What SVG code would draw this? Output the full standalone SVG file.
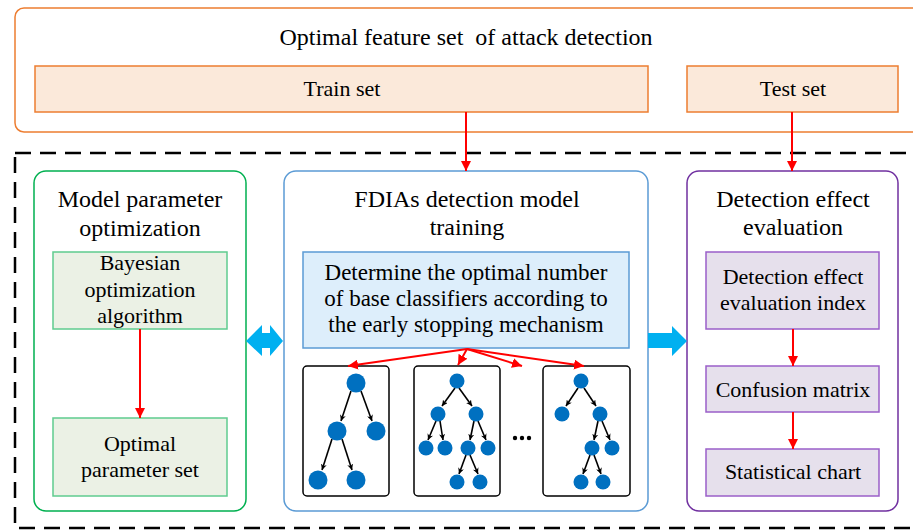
<svg xmlns="http://www.w3.org/2000/svg" width="913" height="532" viewBox="0 0 913 532">
<defs>
<marker id="red" viewBox="0 0 10 10" refX="10" refY="5" markerWidth="10" markerHeight="10" markerUnits="userSpaceOnUse" orient="auto"><path d="M0,0 L10,5 L0,10 Z" fill="#FF0000"/></marker>
<marker id="blk" viewBox="0 0 10 10" refX="10" refY="5" markerWidth="6" markerHeight="6" markerUnits="userSpaceOnUse" orient="auto"><path d="M0,0 L10,5 L0,10 L3,5 Z" fill="#000"/></marker>
<style>
text{font-family:"Liberation Serif","Times New Roman",serif;fill:#000;text-anchor:middle;white-space:pre}
.t24{font-size:24px}
.t22{font-size:22px}
.t23{font-size:23px}
.red{stroke:#FF0000;stroke-width:2;fill:none;marker-end:url(#red)}
.edge{stroke:#000;stroke-width:1.6;fill:none;marker-end:url(#blk)}
.nd{fill:#0070C0}
.tb{fill:#fff;stroke:#000;stroke-width:1.5}
.gi{fill:#EBF1E5;stroke:#5FCB8F;stroke-width:1.5}
.pi{fill:#E6E0EC;stroke:#9A5FC9;stroke-width:1.5}
</style>
</defs>
<rect width="913" height="532" fill="#fff"/>

<g id="feature-set">
<rect x="15" y="8" width="910" height="124" rx="9" fill="#fff" stroke="#ED7D31" stroke-width="1.5"/>
<text class="t24" x="466" y="45" xml:space="preserve">Optimal feature set  of attack detection</text>
</g>
<g id="train-set">
<rect x="35" y="66" width="613" height="46" fill="#FBE9DA" stroke="#ED7D31" stroke-width="1.5"/>
<text class="t22" x="342" y="96">Train set</text>
</g>
<g id="test-set">
<rect x="687" y="66" width="211" height="46" fill="#FBE9DA" stroke="#ED7D31" stroke-width="1.5"/>
<text class="t22" x="793" y="96">Test set</text>
</g>

<g id="dashed-frame">
<rect x="15" y="153" width="910" height="375" fill="none" stroke="#000" stroke-width="2.5" stroke-dasharray="16,9"/>
</g>

<g id="model-param-opt">
<rect x="34" y="171" width="212" height="340" rx="12" fill="#fff" stroke="#00B050" stroke-width="1.5"/>
<text class="t24" x="140" y="207">Model parameter</text>
<text class="t24" x="140" y="236">optimization</text>
</g>
<g id="bayesian">
<rect class="gi" x="53" y="252" width="174" height="77"/>
<text class="t22" x="140" y="270">Bayesian</text>
<text class="t22" x="140" y="297">optimization</text>
<text class="t22" x="140" y="323">algorithm</text>
</g>
<g id="optimal-param">
<rect class="gi" x="53" y="418" width="174" height="78"/>
<text class="t22" x="140" y="451">Optimal</text>
<text class="t22" x="140" y="477">parameter set</text>
</g>

<g id="fdia-training">
<rect x="284" y="171" width="364" height="340" rx="12" fill="#fff" stroke="#5B9BD5" stroke-width="1.5"/>
<text class="t24" x="467" y="207">FDIAs detection model</text>
<text class="t24" x="467" y="235">training</text>
</g>
<g id="early-stopping">
<rect x="303" y="252" width="326" height="96" fill="#DDEEFB" stroke="#5B9BD5" stroke-width="1.5"/>
<text class="t23" x="466" y="280">Determine the optimal number</text>
<text class="t23" x="466" y="306">of base classifiers according to</text>
<text class="t23" x="466" y="332">the early stopping mechanism</text>
</g>

<g id="tree1">
<rect class="tb" x="303" y="366" width="86" height="130" rx="4"/>
<line class="edge" x1="351" y1="391" x2="341" y2="421"/>
<line class="edge" x1="361" y1="391" x2="372" y2="421"/>
<line class="edge" x1="332" y1="439" x2="322" y2="470"/>
<line class="edge" x1="342" y1="439" x2="352" y2="470"/>
<circle class="nd" cx="356" cy="383" r="9.5"/>
<circle class="nd" cx="337" cy="431" r="9.5"/>
<circle class="nd" cx="376" cy="431" r="9.5"/>
<circle class="nd" cx="318" cy="480" r="9.5"/>
<circle class="nd" cx="356" cy="480" r="9.5"/>
</g>
<g id="tree2">
<rect class="tb" x="414" y="366" width="86" height="130" rx="4"/>
<line class="edge" x1="455" y1="388" x2="442" y2="406"/>
<line class="edge" x1="459" y1="388" x2="472" y2="406"/>
<line class="edge" x1="436" y1="421" x2="428" y2="440"/>
<line class="edge" x1="440" y1="421" x2="443" y2="440"/>
<line class="edge" x1="474" y1="421" x2="470" y2="440"/>
<line class="edge" x1="478" y1="421" x2="486" y2="440"/>
<line class="edge" x1="466" y1="455" x2="459" y2="474"/>
<line class="edge" x1="470" y1="455" x2="478" y2="474"/>
<circle class="nd" cx="457" cy="381" r="7.5"/>
<circle class="nd" cx="438" cy="414" r="7.5"/>
<circle class="nd" cx="476" cy="414" r="7.5"/>
<circle class="nd" cx="426" cy="448" r="7.5"/>
<circle class="nd" cx="445" cy="448" r="7.5"/>
<circle class="nd" cx="468" cy="448" r="7.5"/>
<circle class="nd" cx="488" cy="448" r="7.5"/>
<circle class="nd" cx="457" cy="482" r="7.5"/>
<circle class="nd" cx="480" cy="482" r="7.5"/>
</g>
<g id="ellipsis">
<circle cx="515" cy="438" r="2.2" fill="#000"/>
<circle cx="522" cy="438" r="2.2" fill="#000"/>
<circle cx="529" cy="438" r="2.2" fill="#000"/>
</g>
<g id="tree3">
<rect class="tb" x="543" y="366" width="87" height="130" rx="4"/>
<line class="edge" x1="578" y1="388" x2="566" y2="406"/>
<line class="edge" x1="584" y1="388" x2="596" y2="406"/>
<line class="edge" x1="598" y1="421" x2="594" y2="440"/>
<line class="edge" x1="602" y1="421" x2="610" y2="440"/>
<line class="edge" x1="590" y1="455" x2="583" y2="474"/>
<line class="edge" x1="594" y1="455" x2="601" y2="474"/>
<circle class="nd" cx="581" cy="381" r="7.5"/>
<circle class="nd" cx="562" cy="414" r="7.5"/>
<circle class="nd" cx="600" cy="414" r="7.5"/>
<circle class="nd" cx="592" cy="448" r="7.5"/>
<circle class="nd" cx="612" cy="448" r="7.5"/>
<circle class="nd" cx="581" cy="482" r="7.5"/>
<circle class="nd" cx="603" cy="482" r="7.5"/>
</g>

<g id="detection-eval">
<rect x="687" y="171" width="211" height="340" rx="12" fill="#fff" stroke="#7030A0" stroke-width="1.5"/>
<text class="t24" x="793" y="207">Detection effect</text>
<text class="t24" x="793" y="235">evaluation</text>
</g>
<g id="eval-index">
<rect class="pi" x="706" y="252" width="173" height="77"/>
<text class="t22" x="793" y="284">Detection effect</text>
<text class="t22" x="793" y="310">evaluation index</text>
</g>
<g id="confusion">
<rect class="pi" x="706" y="366" width="173" height="46"/>
<text class="t22" x="793" y="397">Confusion matrix</text>
</g>
<g id="stat-chart">
<rect class="pi" x="706" y="449" width="173" height="47"/>
<text class="t22" x="793" y="479">Statistical chart</text>
</g>

<g id="connectors">
<line class="red" x1="466" y1="112" x2="466" y2="171"/>
<line class="red" x1="792" y1="112" x2="792" y2="171"/>
<line class="red" x1="140" y1="329" x2="140" y2="418"/>
<line class="red" x1="793" y1="329" x2="793" y2="366"/>
<line class="red" x1="793" y1="412" x2="793" y2="449"/>
<line class="red" x1="467" y1="349" x2="348" y2="366"/>
<line class="red" x1="467" y1="349" x2="458" y2="365"/>
<line class="red" x1="467" y1="349" x2="522" y2="366"/>
<line class="red" x1="467" y1="349" x2="584" y2="366"/>
<path d="M246,341 L262,325 L262,333 L270,333 L270,325 L283,341 L270,356 L270,348 L262,348 L262,356 Z" fill="#00B0F0"/>
<path d="M648,333 L672,333 L672,326 L687,341 L672,356 L672,348 L648,348 Z" fill="#00B0F0"/>
</g>
</svg>
